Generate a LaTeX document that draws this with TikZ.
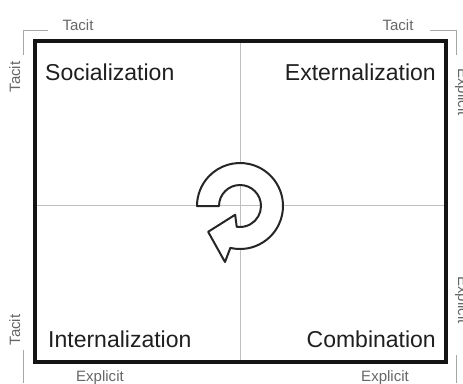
\documentclass[tikz,border=0pt]{standalone}
\usepackage{fontspec}
\setmainfont{Liberation Sans}
\usetikzlibrary{calc}
\begin{document}
\begin{tikzpicture}[x=1pt,y=-1pt,
  quad/.style={inner sep=0pt,font=\fontsize{23}{23}\selectfont,text=black!88},
  side/.style={inner sep=0pt,font=\fontsize{15}{15}\selectfont,text=black!60},
  frame/.style={line width=3.5pt,draw=black!92},
  divider/.style={line width=0.8pt,draw=black!25},
  bracket/.style={line width=0.8pt,draw=black!35},
  cyc/.style={line width=2pt,draw=black!85,line join=round}]
\useasboundingbox (0,0) rectangle (463,383);
\clip (0,0) rectangle (463,383);
% corners
\coordinate (tl) at (35,41);
\coordinate (br) at (446,362);
\coordinate (vt) at (240,41);
\coordinate (vb) at (240,362);
\coordinate (hl) at (35,205);
\coordinate (hr) at (446,205);
\coordinate (c) at (240,206);
% dividers
\draw[divider] (vt) -- (vb);
\draw[divider] (hl) -- (hr);
% circular arrow (angles in screen convention, y down)
\draw[cyc,fill=white]
  ($(c)+(180:43)$) -- ($(c)+(180:21)$)
  arc[start angle=180,end angle=459,radius=21]
  -- ($(c)+(119:10)$) -- ($(c)+(141:41)$) -- ($(c)+(105:58)$) -- ($(c)+(103:43)$)
  arc[start angle=103,end angle=-180,radius=43] -- cycle;
% frame
\draw[frame] (tl) rectangle (br);
% bracket lines
\draw[bracket] (48,30) -- (23,30) -- (23,55);
\draw[bracket] (23,350) -- (23,383);
\draw[bracket] (430,30) -- (456,30) -- (456,55);
\draw[bracket] (456,355) -- (456,383);
% quadrant labels
\node[quad,anchor=base west] (soc) at (45,80) {Socialization};
\node[quad,anchor=base east] (ext) at (436,80) {Externalization};
\node[quad,anchor=base west] (int) at (48,347) {Internalization};
\node[quad,anchor=base east] (com) at (436,347) {Combination};
% side labels
\node[side,anchor=base] (t1) at (78,30) {Tacit};
\node[side,anchor=base] (t2) at (398,30) {Tacit};
\node[side,anchor=base,rotate=90] (t3) at (20,77) {Tacit};
\node[side,anchor=base,rotate=90] (t4) at (20,330) {Tacit};
\node[side,anchor=base] (e1) at (100,381) {Explicit};
\node[side,anchor=base] (e2) at (385,381) {Explicit};
\node[side,anchor=base,rotate=-90] (e3) at (458,92) {Explicit};
\node[side,anchor=base,rotate=-90] (e4) at (458,300) {Explicit};
\end{tikzpicture}
\end{document}
